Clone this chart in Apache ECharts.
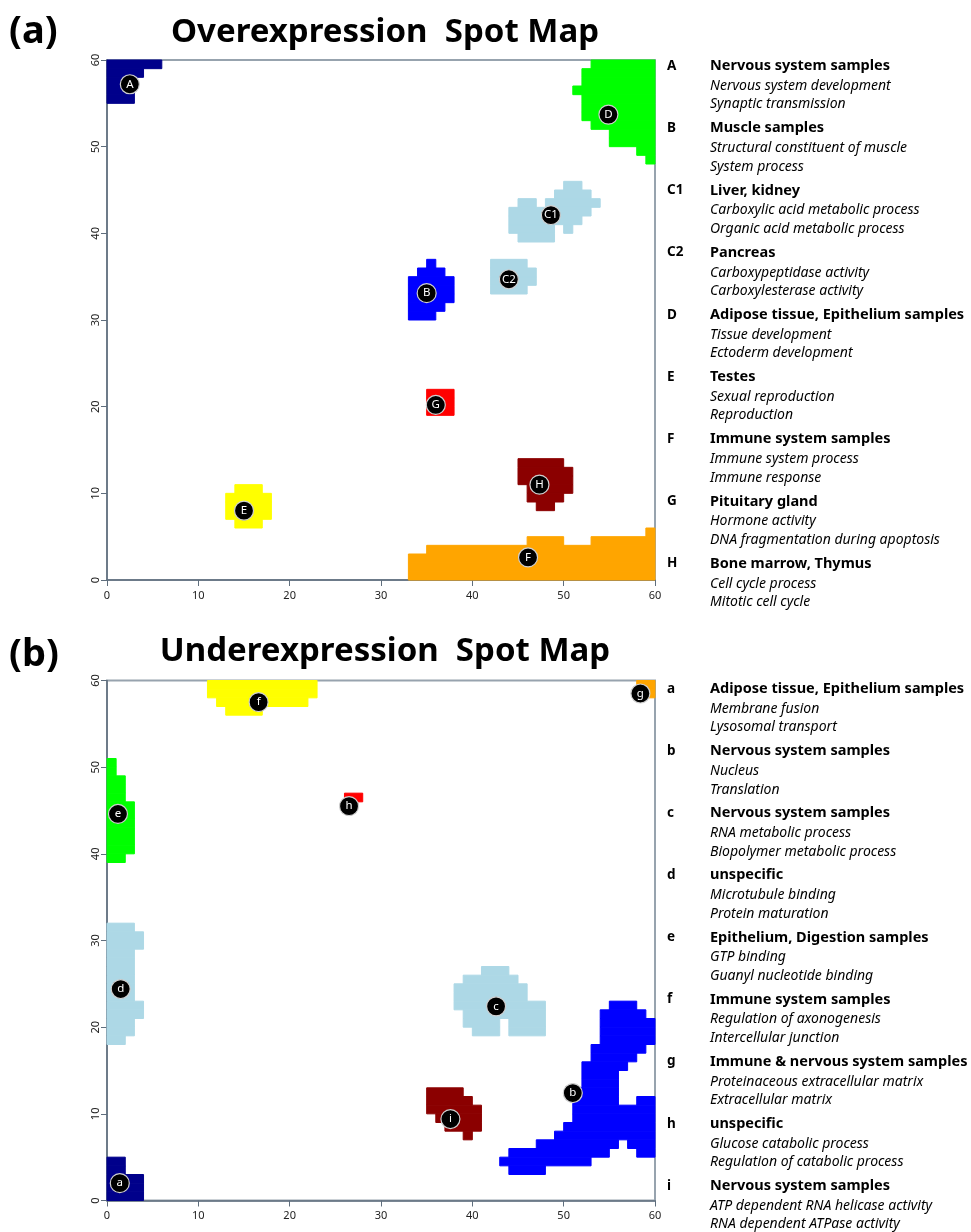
<!DOCTYPE html>
<html><head><meta charset="utf-8">
<script src="https://cdn.jsdelivr.net/npm/echarts@6/dist/echarts.min.js"></script>
<style>html,body{margin:0;padding:0;background:#fff}#c{width:971px;height:1232px}</style>
</head><body><div id="c"></div>
<script>
// Spot cells as row runs: [row y, x start, x end]
const overA  = [[59,0,6],[58,0,4],[57,0,3],[56,0,3],[55,0,3]];
const overB  = [[36,35,36],[35,34,37],[34,33,38],[33,33,38],[32,33,38],[31,33,37],[30,33,36]];
const overC1 = [[45,50,52],[44,49,53],[43,45,47],[43,48,54],[42,44,53],[41,44,52],[40,44,49],[40,50,51],[39,45,49]];
const overC2 = [[36,42,46],[35,42,47],[34,42,47],[33,42,46]];
const overD  = [[59,53,60],[58,52,60],[57,52,60],[56,51,60],[55,52,60],[54,52,60],[53,52,60],[52,53,60],[51,55,60],[50,55,60],[49,58,60],[48,59,60]];
const overE  = [[10,14,17],[9,13,18],[8,13,18],[7,13,18],[6,14,17]];
const overF  = [[5,59,60],[4,46,50],[4,53,60],[3,35,60],[2,33,60],[1,33,60],[0,33,60]];
const overG  = [[21,35,38],[20,35,38],[19,35,38]];
const overH  = [[13,45,50],[12,45,51],[11,45,51],[10,46,51],[9,46,50],[8,47,49]];

const underA = [[4,0,2],[3,0,2],[2,0,4],[1,0,4],[0,0,4]];
const underB = [[22,55,58],[21,54,59],[20,54,60],[19,54,60],[18,54,60],[17,53,59],[16,53,58],[15,52,57],[14,52,56],[13,52,56],[12,51,56],[11,51,56],[11,58,60],[10,51,60],[9,51,60],[8,50,60],[7,49,60],[6,47,56],[6,57,60],[5,44,55],[5,58,60],[4,43,53],[3,44,48]];
const underC = [[26,41,44],[25,39,45],[24,38,46],[23,38,46],[22,38,48],[21,39,48],[20,39,43],[20,44,48],[19,40,43],[19,44,48]];
const underD = [[31,0,3],[30,0,4],[29,0,4],[28,0,3],[27,0,3],[26,0,3],[25,0,3],[24,0,3],[23,0,3],[22,0,4],[21,0,4],[20,0,3],[19,0,3],[18,0,2]];
const underE = [[50,0,1],[49,0,1],[48,0,2],[47,0,2],[46,0,2],[45,0,3],[44,0,3],[43,0,3],[42,0,3],[41,0,3],[40,0,3],[39,0,2]];
const underF = [[59,11,23],[58,11,23],[57,12,22],[56,13,17]];
const underG = [[59,58,60],[58,59,60]];
const underH = [[46,26,28]];
const underI = [[12,35,39],[11,35,40],[10,35,41],[9,36,41],[8,37,41],[7,39,40]];

// Spot label positions [x, y, label]
const overLabels  = [[2.5,57.2,'A'],[35.0,33.1,'B'],[48.6,42.1,'C1'],[44.0,34.7,'C2'],[54.9,53.7,'D'],[15.0,8.0,'E'],[46.1,2.6,'F'],[36.0,20.2,'G'],[47.35,11.0,'H']];
const underLabels = [[1.4,2.0,'a'],[51.0,12.4,'b'],[42.6,22.4,'c'],[1.5,24.4,'d'],[1.2,44.6,'e'],[16.6,57.5,'f'],[58.4,58.5,'g'],[26.5,45.5,'h'],[37.6,9.4,'i']];

// Legend texts
const overKeys   = ['A','B','C1','C2','D','E','F','G','H'];
const overTitles = ['Nervous system samples','Muscle samples','Liver, kidney','Pancreas','Adipose tissue, Epithelium samples','Testes','Immune system samples','Pituitary gland','Bone marrow, Thymus'];
const overTerms  = [['Nervous system development','Synaptic transmission'],['Structural constituent of muscle','System process'],['Carboxylic acid metabolic process','Organic acid metabolic process'],['Carboxypeptidase activity','Carboxylesterase activity'],['Tissue development','Ectoderm development'],['Sexual reproduction','Reproduction'],['Immune system process','Immune response'],['Hormone activity','DNA fragmentation during apoptosis'],['Cell cycle process','Mitotic cell cycle']];
const underKeys   = ['a','b','c','d','e','f','g','h','i'];
const underTitles = ['Adipose tissue, Epithelium samples','Nervous system samples','Nervous system samples','unspecific','Epithelium, Digestion samples','Immune system samples','Immune & nervous system samples','unspecific','Nervous system samples'];
const underTerms  = [['Membrane fusion','Lysosomal transport'],['Nucleus','Translation'],['RNA metabolic process','Biopolymer metabolic process'],['Microtubule binding','Protein maturation'],['GTP binding','Guanyl nucleotide binding'],['Regulation of axonogenesis','Intercellular junction'],['Proteinaceous extracellular matrix','Extracellular matrix'],['Glucose catabolic process','Regulation of catabolic process'],['ATP dependent RNA helicase activity','RNA dependent ATPase activity']];

const C = {navy:'#00008B', blue:'#0000FF', light:'#ADD8E6', green:'#00FF00', yellow:'#FFFF00', orange:'#FFA500', red:'#FF0000', dred:'#8B0000'};
const overSpots  = [[overA,C.navy],[overB,C.blue],[overC1,C.light],[overC2,C.light],[overD,C.green],[overE,C.yellow],[overF,C.orange],[overG,C.red],[overH,C.dred]];
const underSpots = [[underA,C.navy],[underB,C.blue],[underC,C.light],[underD,C.light],[underE,C.green],[underF,C.yellow],[underG,C.orange],[underH,C.red],[underI,C.dred]];

const FONT = '"Noto Sans", "Open Sans", sans-serif';
const chart = echarts.init(document.getElementById('c'), null, {renderer:'canvas'});

function renderRect(params, api){
  const x0 = api.value(0), x1 = api.value(1), y0 = api.value(2), y1 = api.value(3);
  const p0 = api.coord([x0, y1]);
  const p1 = api.coord([x1, y0]);
  const col = api.visual('color');
  return {type:'rect', shape:{x:p0[0], y:p0[1], width:p1[0]-p0[0], height:p1[1]-p0[1]},
          style:{fill: col, stroke: col, lineWidth: 1}};
}

const series = [];
[[overSpots,0],[underSpots,1]].forEach(([spots, gi]) => {
  spots.forEach(([runs,color]) => {
    series.push({type:'custom', xAxisIndex:gi, yAxisIndex:gi, renderItem:renderRect,
      itemStyle:{color}, encode:{x:[0,1], y:[2,3]}, silent:true,
      data: runs.map(r => [r[1], r[2], r[0], r[0]+1])});
  });
});
[[overLabels,0],[underLabels,1]].forEach(([labs, gi]) => {
  series.push({type:'scatter', xAxisIndex:gi, yAxisIndex:gi, symbol:'circle', symbolSize:19, clip:false, z:10, silent:true,
    itemStyle:{color:'#000', opacity:1, borderColor:'#d0d0d0', borderWidth:1.2},
    label:{show:true, position:'inside', color:'#fff', fontFamily:FONT, fontSize:11.5, formatter:p=>p.data[2]},
    data: labs});
});

const axisCommon = {min:0, max:60, interval:10, type:'value',
  axisLine:{show:true, onZero:false, lineStyle:{color:'#5f6e7d', width:1.5}},
  axisTick:{show:true, length:6, lineStyle:{color:'#5f6e7d'}},
  splitLine:{show:false},
  axisLabel:{color:'#222', fontFamily:FONT, fontSize:11}};

function xAx(gi){ return Object.assign({}, axisCommon, {gridIndex:gi, axisLabel:Object.assign({}, axisCommon.axisLabel, {margin:10})}); }
function yAx(gi){ return Object.assign({}, axisCommon, {gridIndex:gi, axisLabel:Object.assign({}, axisCommon.axisLabel, {rotate:90, margin:6})}); }

const graphic = [
  {type:'text', x:9, y:32, style:{text:'(a)', font:'bold 38px '+FONT, fill:'#000', verticalAlign:'middle'}},
  {type:'text', x:385, y:33, style:{text:'Overexpression  Spot Map', font:'bold 33px '+FONT, fill:'#000', align:'center', verticalAlign:'middle'}},
  {type:'text', x:9, y:655, style:{text:'(b)', font:'bold 38px '+FONT, fill:'#000', verticalAlign:'middle'}},
  {type:'text', x:385, y:652, style:{text:'Underexpression  Spot Map', font:'bold 33px '+FONT, fill:'#000', align:'center', verticalAlign:'middle'}}
];
function addLegend(keys, titles, terms, y0, step){
  keys.forEach((k,i) => {
    const y = y0 + i*step;
    graphic.push({type:'text', x:667, y:y, style:{text:k, font:'bold 13.5px '+FONT, fill:'#000', verticalAlign:'middle'}});
    graphic.push({type:'text', x:710, y:y, style:{text:titles[i], font:'bold 14.5px '+FONT, fill:'#000', verticalAlign:'middle'}});
    graphic.push({type:'text', x:710, y:y+20, style:{text:terms[i][0], font:'italic 14px '+FONT, fill:'#000', verticalAlign:'middle'}});
    graphic.push({type:'text', x:710, y:y+38.5, style:{text:terms[i][1], font:'italic 14px '+FONT, fill:'#000', verticalAlign:'middle'}});
  });
}
addLegend(overKeys, overTitles, overTerms, 66, 62.2);
addLegend(underKeys, underTitles, underTerms, 689, 62.1);

chart.setOption({
  backgroundColor:'#fff',
  animation:false,
  grid:[
    {left:107, top:60, width:548, height:520, show:true, borderColor:'#97a3ae', borderWidth:2, backgroundColor:'transparent'},
    {left:107, top:680.5, width:548, height:520, show:true, borderColor:'#97a3ae', borderWidth:2, backgroundColor:'transparent'}
  ],
  xAxis:[xAx(0), xAx(1)],
  yAxis:[yAx(0), yAx(1)],
  series,
  graphic
});
</script></body></html>
